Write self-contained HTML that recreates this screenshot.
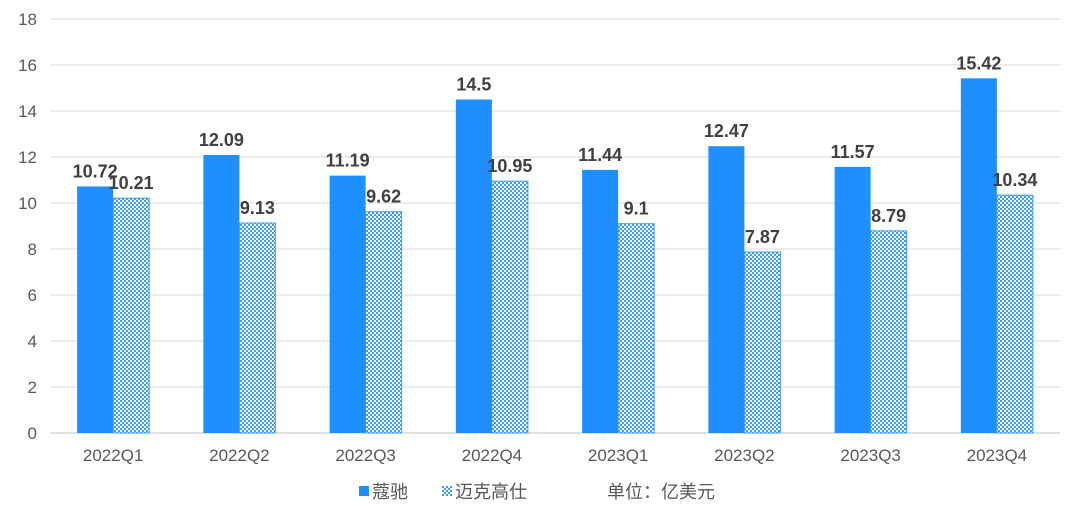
<!DOCTYPE html>
<html><head><meta charset="utf-8"><style>
html,body{margin:0;padding:0;background:#fff;width:1080px;height:519px;overflow:hidden}
svg text{font-family:"Liberation Sans","Noto Sans CJK SC",sans-serif}
</style></head><body>
<svg id="c" width="1080" height="519">
<defs>
<pattern id="chk" width="4" height="4" patternUnits="userSpaceOnUse">
<rect width="4" height="4" fill="#fff"/>
<rect width="2" height="2" fill="#3a9bff"/>
<rect x="2" y="2" width="2" height="2" fill="#3a9bff"/>
</pattern>
</defs>
<g id="grid"></g><g id="bars"></g><g id="labels"></g>
<g>
<rect x="359" y="486" width="10" height="10" fill="#1f8fff"/>
<text x="372" y="498" font-size="18" fill="#595959">蔻驰</text>
<rect x="442" y="486" width="10" height="10" fill="url(#chk)"/>
<text x="455" y="498" font-size="18" fill="#595959">迈克高仕</text>
<text x="607" y="498" font-size="18" fill="#595959">单位：亿美元</text>
</g>
</svg>
<script>
const categories=["2022Q1","2022Q2","2022Q3","2022Q4","2023Q1","2023Q2","2023Q3","2023Q4"];
const coach=[10.72,12.09,11.19,14.5,11.44,12.47,11.57,15.42];
const mk=[10.21,9.13,9.62,10.95,9.1,7.87,8.79,10.34];
const yTicks=[0,2,4,6,8,10,12,14,16,18];
const NS="http://www.w3.org/2000/svg";
const x0=50,x1=1060,y0=433,yTop=19,yMax=18;
const y=v=>y0-(v/yMax)*(y0-yTop);
const band=(x1-x0)/categories.length;
const cx=i=>x0+band*(i+0.5);
function mk_(tag,attrs,parent){const e=document.createElementNS(NS,tag);for(const k in attrs)e.setAttribute(k,attrs[k]);parent.appendChild(e);return e;}
const g=document.getElementById('grid'),b=document.getElementById('bars'),l=document.getElementById('labels');
yTicks.forEach(t=>{
 const ln=mk_('line',{x1:x0,x2:x1,y1:y(t),y2:y(t),stroke:t===0?'#bfbfbf':'#d9d9d9','stroke-width':1},g);
 
 
 const tx=mk_('text',{x:37,y:y(t)+6,'text-anchor':'end','font-size':17,fill:'#595959'},g);
 tx.textContent=t;
 
 
});
const bw=36;
categories.forEach((c,i)=>{
 const r1=mk_('rect',{x:cx(i)-bw,y:y(coach[i]),width:bw,height:y0-y(coach[i]),fill:'#1f8fff'},b);
 
 
 const r2=mk_('rect',{x:cx(i),y:y(mk[i]),width:bw,height:y0-y(mk[i]),fill:'url(#chk)',stroke:'#3a9bff','stroke-width':1},b);
 
 
 const t1=mk_('text',{x:cx(i)-bw/2,y:y(coach[i])-9,'text-anchor':'middle','font-size':18,'font-weight':'bold',fill:'#404040'},l);
 t1.textContent=coach[i];
 
 
 const t2=mk_('text',{x:cx(i)+bw/2,y:y(mk[i])-9,'text-anchor':'middle','font-size':18,'font-weight':'bold',fill:'#404040'},l);
 t2.textContent=mk[i];
 
 
 const ct=mk_('text',{x:cx(i),y:461,'text-anchor':'middle','font-size':17,fill:'#595959'},l);
 ct.textContent=c;
 
 
});
</script>
</body></html>
